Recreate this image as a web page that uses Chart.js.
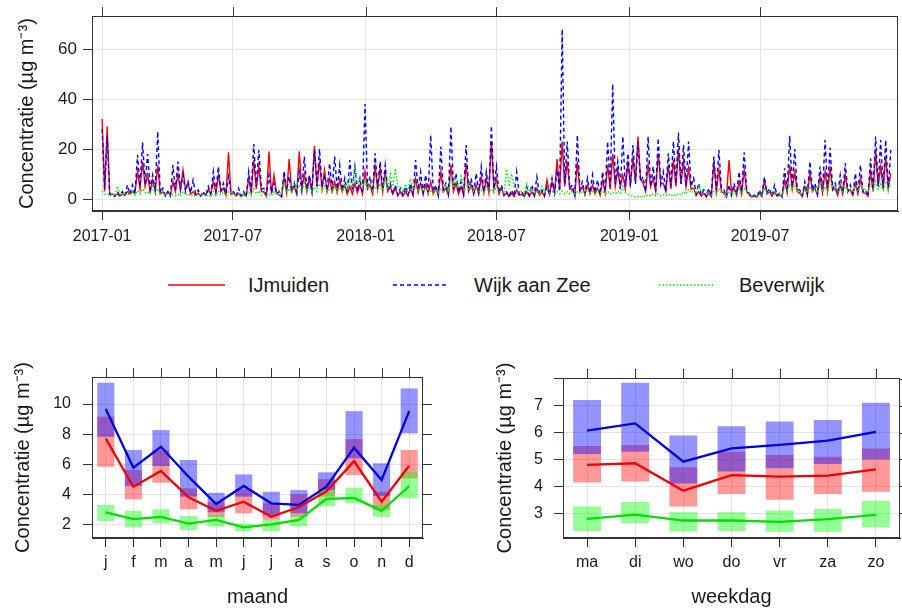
<!DOCTYPE html>
<html>
<head>
<meta charset="utf-8">
<script src="https://cdn.jsdelivr.net/npm/chart.js@4.4.1/dist/chart.umd.min.js"></script>
<style>
  body { margin: 0; background: #fff; font-family: "Liberation Sans", Arial, sans-serif; }
  #wrap { position: relative; width: 902px; height: 609px; overflow: hidden; background: #fff; }
  .panel { position: absolute; }
  .legtext { position: absolute; font-size: 20px; color: #1a1a1a; line-height: 24px; white-space: nowrap; }
</style>
</head>
<body>
<div id="wrap">
  <div class="panel" style="left:0;top:0;width:902px;height:250px"><canvas id="tsChart"></canvas></div>

  <svg class="panel" style="left:0;top:270px" width="902" height="30">
    <line x1="168" y1="15" x2="225" y2="15" stroke="#ff0000" stroke-width="1.6"/>
    <line x1="393" y1="15" x2="448" y2="15" stroke="#0000ff" stroke-width="1.6" stroke-dasharray="4 3"/>
    <line x1="659" y1="15" x2="714" y2="15" stroke="#00ee00" stroke-width="1.6" stroke-dasharray="1.5 2"/>
  </svg>
  <div class="legtext" style="left:248px;top:273px">IJmuiden</div>
  <div class="legtext" style="left:474px;top:273px">Wijk aan Zee</div>
  <div class="legtext" style="left:739px;top:273px">Beverwijk</div>

  <div class="panel" style="left:0;top:340px;width:460px;height:269px"><canvas id="monthChart"></canvas></div>
  <div class="panel" style="left:450px;top:340px;width:452px;height:269px"><canvas id="dayChart"></canvas></div>
</div>

<script>
// weekly peaks plus the mid-week lows of the daily series, starting 2017-01-01
const sampleStep = 7;

const ijmuiden = [32, 29, 2, 2, 2, 3, 3, 11, 15, 9.6,
  7.6, 13.6, 3, 2.9, 7, 10, 11.6, 6.3, 2.9, 2.3,
  2.3, 3.6, 7, 9.6, 4.3, 18.7, 2.3, 2.3, 1.9, 8.3,
  15.6, 13, 2.9, 19, 9.6, 1.6, 8.9, 16, 5, 19,
  10, 8.3, 21.3, 15, 11.6, 8.3, 6.9, 7.6, 5.6, 5,
  6.3, 5.6, 11, 5.6, 13, 12.3, 10.9, 4.9, 4.3, 2.9,
  2.9, 4.3, 8.3, 6.3, 5.6, 6.9, 4.3, 10.9, 4.3, 13.6,
  6.3, 4.9, 14.3, 5.6, 5.6, 8.9, 8.3, 23, 8.3, 4.3,
  2.3, 2.3, 3.6, 1.9, 2.9, 2.9, 4.3, 2.9, 7.6, 6.9,
  16, 23, 15, 3.6, 15, 4.9, 5.6, 5.6, 4.3, 7.6,
  13.6, 18, 11.6, 9.6, 14.3, 16, 25, 6.3, 13.6, 8.3,
  18.3, 6.3, 13.6, 15.6, 20, 15, 12.3, 4.3, 2.9, 2.3,
  2.3, 15, 11.6, 2.3, 15.6, 4.3, 6.9, 11.6, 1.6, 1.3,
  2.3, 7.6, 2.9, 2.9, 1.6, 7.6, 13.6, 10.9, 2.3, 4.9,
  10.3, 4.3, 8.9, 10.9, 12.3, 4.3, 5.6, 9.6, 3.6, 6.3,
  8.3, 2.3, 10.9, 19, 13, 17, 10.3];
const ijmuidenLow = [3, 2, 1.5, 1.2, 1.5, 2, 2.5, 4, 5, 3,
  3, 2, 1.5, 1.5, 3, 3.5, 4, 2, 1.5, 1.2,
  1.5, 2, 2.5, 3, 1.5, 2, 1.2, 1, 1.2, 2.5,
  4, 3, 1.2, 2, 2.5, 1, 2.5, 3, 2, 4,
  3, 3, 5, 4, 3, 3, 2.5, 3, 2, 2,
  2.5, 2, 4, 2, 4, 3, 3, 2, 1.5, 1.2,
  1.5, 1.5, 2.5, 2, 2, 2, 1.5, 3, 1.5, 3,
  2, 1.5, 3, 2, 2, 2.5, 2.5, 4, 2, 1.5,
  1, 1, 1.5, 1, 1.2, 1.2, 1.5, 1.2, 2, 2.5,
  4, 5, 4, 1.5, 3, 2, 2, 2, 1.5, 2.5,
  4, 5, 5, 4, 6, 7, 8, 3, 5, 3,
  6, 3, 4, 5, 6, 5, 4, 1.5, 1.2, 1,
  1, 3, 3, 1, 2.5, 1.5, 2, 3, 0.8, 0.8,
  1, 2, 1.2, 1.2, 1, 2.5, 4, 3, 1.2, 1.5,
  3, 1.5, 2.5, 3, 3.5, 1.5, 2, 3, 1.5, 2,
  2.5, 1.2, 3, 5, 4, 4];

const wijkAanZee = [28, 25, 1, 3, 3, 5.6, 5.6, 17.6, 22.7, 18,
  9.6, 27, 4.3, 3, 13.6, 15, 9.6, 7, 7.6, 3.6,
  3, 5, 11, 13, 6.3, 9, 2.9, 4.3, 3, 11,
  22, 19.6, 4.3, 9.6, 6.3, 3, 11.2, 9, 6.3, 11,
  17, 9.6, 19.6, 20, 9.6, 14.3, 17, 13.6, 8.3, 15.6,
  13, 8.3, 38, 9, 18.3, 15, 13.6, 6.3, 5.6, 4.3,
  4.9, 6.3, 15.6, 10.9, 9.6, 25.6, 5.6, 21, 6.3, 29,
  10.3, 6.9, 21.6, 8.3, 10.3, 13, 10.9, 29.3, 13, 5.6,
  2.9, 3.6, 10.9, 2.9, 4.9, 5.6, 8.9, 3.6, 4.9, 8.3,
  11.6, 68, 23, 5.6, 25.6, 6.9, 8.3, 9.6, 7.6, 10.9,
  23, 46, 15, 25, 18.3, 21.6, 23, 8.9, 25, 13,
  24.3, 10.9, 18.3, 23, 26.6, 21.6, 23, 8.3, 6.3, 3.6,
  4.3, 17, 19.6, 3.6, 5.6, 6.3, 10.9, 18.7, 2.3, 1.6,
  3.6, 8.9, 4.3, 5.6, 2.3, 12.3, 25.3, 20, 3.6, 6.9,
  15, 6.3, 13, 23.6, 20.5, 6.3, 9.6, 14.3, 5.6, 10.3,
  13.6, 3.6, 16.3, 25, 23.6, 23.6, 19.6];
const wijkAanZeeLow = [4, 2, 1, 1.5, 1.2, 2, 2, 5, 6, 4,
  3.5, 2.5, 1.2, 1.2, 3.5, 4, 3, 2.5, 2, 1.2,
  1.2, 2, 3, 3.5, 2, 2.5, 1, 1.2, 1, 3,
  5, 4, 1.5, 2.5, 2, 1, 3.5, 3, 2.5, 3.5,
  4, 3, 5, 5, 3.5, 4, 4, 3.5, 2.5, 3.5,
  3, 2.5, 5, 3, 4.5, 4, 3.5, 2, 1.5, 1.5,
  1.5, 2, 3.5, 2.5, 2.5, 3, 1.5, 3.5, 2, 4,
  2.5, 2, 4, 2.5, 3, 3, 3, 4, 2.5, 1.5,
  1, 1.2, 2, 1, 1.5, 1.5, 2, 1.2, 1.5, 2.5,
  3, 6, 4, 1.5, 4, 2, 2.5, 2.5, 2, 3,
  5, 6, 4, 5, 5, 6, 7, 3, 5, 3,
  6, 3, 5, 6, 6, 5, 5, 2, 1.5, 1,
  1.2, 3.5, 4, 1, 1.5, 2, 3, 4, 0.8, 0.7,
  1, 2.5, 1.2, 1.5, 0.8, 3, 5, 4, 1.2, 2,
  3.5, 2, 3, 4, 4, 2, 2.5, 3, 1.5, 2.5,
  3, 1.2, 3.5, 5, 4.5, 4];

const beverwijk = [3.2, 2.1, 2.4, 5.2, 2, 2.3, 3, 3.4, 4.1, 3,
  5, 4.2, 3, 2.2, 1.8, 2, 3.1, 2.2, 1.9, 2,
  2.1, 1.8, 3, 3.3, 2.8, 3, 2.2, 1.9, 2.1, 3,
  4, 3.2, 2.2, 2, 3.1, 3.3, 6.2, 4.1, 7, 5,
  6.3, 5.1, 4.8, 6.2, 5.1, 4.3, 5.2, 4.9, 6.1, 8.2,
  13, 8.1, 7.2, 6, 5.1, 6.2, 8.3, 10, 12.2, 5.1,
  6, 8, 5.2, 4.9, 4.1, 3.2, 4, 4.2, 6, 8.3,
  8, 9.1, 6.2, 5, 4.1, 3.8, 5, 4.1, 5.2, 3,
  12, 10.1, 4.2, 3, 6, 4.1, 3.2, 5, 4, 3.1,
  3, 3.2, 2.9, 3.1, 3, 2.8, 4, 3.1, 4, 3.2,
  3, 2.8, 3.1, 5, 2, 1.2, 1, 1.3, 1.8, 2.1,
  2, 1.8, 2.1, 1.9, 2.2, 3, 4, 3.1, 5.2, 4,
  2.2, 3, 4.1, 2, 3.2, 2.9, 4, 4.2, 2, 1.8,
  2.2, 4.1, 3, 3.2, 2.1, 5, 6.1, 5.2, 3, 4,
  5.1, 4, 6.2, 5, 8, 5.2, 4.8, 5.1, 4, 5.2,
  6, 3.9, 6.2, 7, 6.1, 7.2, 6.3];
const beverwijkLow = [2, 1.5, 1.2, 2, 1.2, 1.5, 1.5, 2, 2.5, 2,
  2.5, 2, 1.5, 1.2, 1.2, 1.2, 1.5, 1.2, 1, 1,
  1, 1, 1.5, 1.5, 1.5, 1.5, 1.2, 1, 1, 1.5,
  2, 1.5, 1.2, 1.2, 1.5, 1.5, 3, 2.5, 3.5, 3,
  3.5, 3, 3, 3.5, 3, 2.5, 3, 3, 3.5, 4.5,
  6, 4.5, 4, 3.5, 3, 3.5, 4.5, 5, 5, 3,
  3.5, 4, 3, 3, 2.5, 2, 2.5, 2.5, 3.5, 4.5,
  4.5, 5, 3.5, 3, 2.5, 2.5, 3, 2.5, 3, 2,
  5, 5, 2.5, 2, 3, 2.5, 2, 3, 2.5, 2,
  2, 2, 2, 2, 2, 2, 2.5, 2, 2.5, 2,
  2, 2, 2, 2.5, 1.2, 0.7, 0.6, 0.8, 1.2, 1.2,
  1.2, 1.2, 1.2, 1.2, 1.5, 2, 2.5, 2, 3, 2.5,
  1.2, 2, 2.5, 1.2, 2, 2, 2.5, 2.5, 1.2, 1.2,
  1.2, 2.5, 2, 2, 1.2, 3, 3.5, 3, 2, 2.5,
  3, 2.5, 3.5, 3, 4.5, 3, 3, 3, 2.5, 3,
  3.5, 2.5, 3.5, 4, 3.5, 4];

// x axis ticks (days since 2017-01-01)
const tickDays = [0, 181, 365, 546, 730, 911];
const tickLabels = ["2017-01", "2017-07", "2018-01", "2018-07", "2019-01", "2019-07"];
const tsTicks = [0, 20, 40, 60];

// monthly means with intervals
const months = ["j", "f", "m", "a", "m", "j", "j", "a", "s", "o", "n", "d"];
const monthRed = [7.7, 4.5, 5.55, 3.8, 2.9, 3.5, 2.5, 3.15, 4.2, 6.2, 3.5, 5.9];
const monthRedLow = [5.83, 3.66, 4.77, 3.0, 2.5, 2.73, 2.3, 2.5, 3.84, 5.28, 2.95, 5.06];
const monthRedHigh = [9.16, 5.61, 6.94, 4.39, 3.5, 4.33, 3.4, 4.0, 5.0, 7.67, 4.17, 6.94];
const monthBlue = [9.67, 5.77, 7.16, 5.17, 3.35, 4.55, 3.4, 3.29, 4.5, 7.1, 4.95, 9.53];
const monthBlueLow = [7.83, 4.55, 5.88, 3.84, 2.8, 3.84, 2.62, 2.73, 4.28, 6.39, 3.88, 8.05];
const monthBlueHigh = [11.42, 6.94, 8.27, 6.28, 4.1, 5.32, 4.17, 4.28, 5.46, 9.53, 6.06, 11.04];
const monthGreen = [2.8, 2.35, 2.5, 2.05, 2.3, 1.8, 2.0, 2.3, 3.7, 3.75, 2.9, 4.55];
const monthGreenLow = [2.22, 1.8, 2.07, 1.62, 1.85, 1.55, 1.55, 1.85, 3.2, 3.4, 2.5, 3.73];
const monthGreenHigh = [3.29, 2.9, 3.0, 2.55, 2.62, 2.05, 2.3, 2.6, 4.28, 4.44, 3.29, 5.5];
const monthTicks = [2, 4, 6, 8, 10];

// weekday means with intervals
const weekdays = ["ma", "di", "wo", "do", "vr", "za", "zo"];
const dayRed = [4.8, 4.86, 3.84, 4.42, 4.36, 4.4, 4.63];
const dayRedLow = [4.14, 4.18, 3.25, 3.72, 3.5, 3.72, 3.8];
const dayRedHigh = [5.5, 5.54, 4.71, 5.29, 5.17, 5.1, 5.41];
const dayBlue = [6.07, 6.34, 4.92, 5.41, 5.54, 5.7, 6.03];
const dayBlueLow = [5.2, 5.29, 4.11, 4.55, 4.67, 4.83, 5.0];
const dayBlueHigh = [7.21, 7.85, 5.89, 6.24, 6.41, 6.47, 7.11];
const dayGreen = [2.79, 2.95, 2.73, 2.73, 2.68, 2.78, 2.94];
const dayGreenLow = [2.34, 2.63, 2.32, 2.34, 2.31, 2.31, 2.47];
const dayGreenHigh = [3.25, 3.42, 3.04, 3.04, 3.1, 3.16, 3.46];
const dayTicks = [3, 4, 5, 6, 7, 8];

const yTitle = "Concentratie (µg m⁻³)";
const gridColor = "#e4e4e4";
const inkColor = "#1a1a1a";
const frameColor = "#333";

Chart.defaults.font.family = '"Liberation Sans", Arial, sans-serif';
Chart.defaults.color = inkColor;

// lattice style box: full frame plus outward ticks on top/right
const frameTicks = {
  id: "frameTicks",
  afterDraw(chart, args, opts) {
    const ctx = chart.ctx;
    const a = chart.chartArea;
    ctx.save();
    ctx.strokeStyle = frameColor;
    ctx.lineWidth = 1;
    ctx.strokeRect(Math.round(a.left) + 0.5, Math.round(a.top) + 0.5,
      Math.round(a.right - a.left) - 1, Math.round(a.bottom - a.top) - 1);
    ctx.beginPath();
    if (opts.top) {
      const xs = chart.scales.x;
      xs.ticks.forEach((t, i) => {
        const px = Math.round(xs.getPixelForTick(i)) + 0.5;
        ctx.moveTo(px, a.top);
        ctx.lineTo(px, a.top - opts.len);
      });
    }
    if (opts.right) {
      const ys = chart.scales.y;
      ys.ticks.forEach((t, i) => {
        const py = Math.round(ys.getPixelForTick(i)) + 0.5;
        ctx.moveTo(a.right, py);
        ctx.lineTo(a.right + opts.len, py);
      });
    }
    ctx.stroke();
    ctx.restore();
  }
};

function tsPoints(peaks, lows){
  const pts = [];
  peaks.forEach((v, i) => {
    pts.push({x: i * sampleStep, y: v});
    if (i < lows.length) pts.push({x: i * sampleStep + sampleStep / 2, y: lows[i]});
  });
  return pts;
}

function tsLine(label, peaks, lows, color, dash, order){
  return {
    label: label,
    data: tsPoints(peaks, lows),
    borderColor: color,
    borderWidth: 1.4,
    borderDash: dash,
    pointRadius: 0,
    tension: 0,
    order: order
  };
}

new Chart(document.getElementById("tsChart"), {
  type: "line",
  data: {
    datasets: [
      tsLine("IJmuiden", ijmuiden, ijmuidenLow, "#ff0000", [], 3),
      tsLine("Wijk aan Zee", wijkAanZee, wijkAanZeeLow, "#0000ff", [4, 3], 2),
      tsLine("Beverwijk", beverwijk, beverwijkLow, "#00ee00", [1.5, 2], 1)
    ]
  },
  options: {
    animation: false,
    responsive: true,
    maintainAspectRatio: false,
    layout: {padding: {top: 16, right: 4, left: 0, bottom: 0}},
    plugins: {
      legend: {display: false},
      tooltip: {enabled: false},
      frameTicks: {top: true, right: false, len: 9}
    },
    scales: {
      x: {
        type: "linear",
        min: -14,
        max: 1102,
        afterBuildTicks: s => { s.ticks = tickDays.map(v => ({value: v})); },
        afterFit: s => { s.height = 39; },
        ticks: {autoSkip: false, maxRotation: 0, padding: 7, font: {size: 16},
          callback: (v, i) => tickLabels[i]},
        grid: {color: gridColor, tickColor: frameColor, tickLength: 9},
        border: {color: frameColor}
      },
      y: {
        min: -4.8,
        max: 73.2,
        afterBuildTicks: s => { s.ticks = tsTicks.map(v => ({value: v})); },
        afterFit: s => { s.width = 92; },
        ticks: {padding: 6, font: {size: 17}},
        grid: {color: gridColor, tickColor: frameColor, tickLength: 9},
        border: {color: frameColor},
        title: {display: true, text: yTitle, font: {size: 20}, padding: {top: 15, bottom: 0}}
      }
    }
  },
  plugins: [frameTicks]
});

function boxSet(label, lows, highs, color, width, order){
  return {
    type: "bar",
    label: label,
    data: lows.map((l, i) => [l, highs[i]]),
    backgroundColor: color,
    borderWidth: 0,
    grouped: false,
    barPercentage: width,
    categoryPercentage: 1,
    order: order
  };
}

function meanSet(label, values, color){
  return {
    type: "line",
    label: label,
    data: values,
    borderColor: color,
    borderWidth: 2.3,
    pointRadius: 0,
    tension: 0,
    order: 0
  };
}

function panel(id, labels, sets, yMin, yMax, yTicks, hideTop, opt){
  new Chart(document.getElementById(id), {
    type: "bar",
    data: {
      labels: labels,
      datasets: [
        boxSet("IJmuiden", sets[1], sets[2], "rgba(255,0,0,0.4)", opt.bar, 3),
        boxSet("Wijk aan Zee", sets[4], sets[5], "rgba(0,0,255,0.42)", opt.bar, 2),
        boxSet("Beverwijk", sets[7], sets[8], "rgba(0,255,0,0.42)", opt.bar, 1),
        meanSet("IJmuiden", sets[0], "#ee0000"),
        meanSet("Wijk aan Zee", sets[3], "#0000dd"),
        meanSet("Beverwijk", sets[6], "#00dd00")
      ]
    },
    options: {
      animation: false,
      responsive: true,
      maintainAspectRatio: false,
      layout: {padding: {top: opt.top, right: opt.right, left: 0, bottom: 0}},
      plugins: {
        legend: {display: false},
        tooltip: {enabled: false},
        frameTicks: {top: true, right: true, len: 9}
      },
      scales: {
        x: {
          type: "category",
          offset: true,
          afterFit: s => { s.height = 71; },
          ticks: {padding: 6, font: {size: 16}, autoSkip: false, maxRotation: 0},
          grid: {offset: false, color: gridColor, tickColor: frameColor, tickLength: 9},
          border: {color: frameColor},
          title: {display: true, text: opt.xTitle, font: {size: 20}, padding: {top: 0, bottom: 0}}
        },
        y: {
          min: yMin,
          max: yMax,
          afterBuildTicks: s => { s.ticks = yTicks.map(v => ({value: v})); },
          afterFit: s => { s.width = opt.axisW; },
          ticks: {padding: opt.tickPad, font: {size: 16},
            callback: v => (v === hideTop ? "" : v)},
          grid: {color: gridColor, tickColor: frameColor, tickLength: 9},
          border: {color: frameColor},
          title: {display: true, text: yTitle, font: {size: 20}, padding: {top: opt.titlePad, bottom: 0}}
        }
      }
    },
    plugins: [frameTicks]
  });
}

panel("monthChart", months,
  [monthRed, monthRedLow, monthRedHigh, monthBlue, monthBlueLow, monthBlueHigh, monthGreen, monthGreenLow, monthGreenHigh],
  1.09, 11.8, monthTicks, null,
  {bar: 0.62, top: 37, right: 37, axisW: 92, tickPad: 12, titlePad: 11, xTitle: "maand"});

panel("dayChart", weekdays,
  [dayRed, dayRedLow, dayRedHigh, dayBlue, dayBlueLow, dayBlueHigh, dayGreen, dayGreenLow, dayGreenHigh],
  2.08, 8.03, dayTicks, 8,
  {bar: 0.58, top: 38, right: 2, axisW: 113, tickPad: 11, titlePad: 43, xTitle: "weekdag"});
</script>
</body>
</html>
